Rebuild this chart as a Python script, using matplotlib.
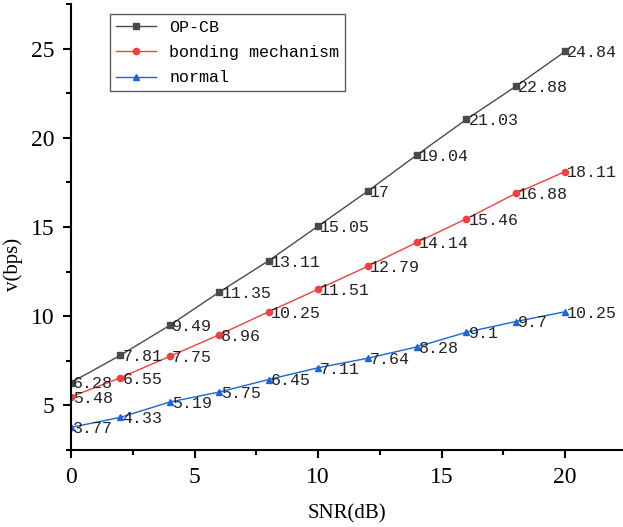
import matplotlib
matplotlib.use("Agg")
import matplotlib.pyplot as plt
from matplotlib.ticker import MultipleLocator

snr = [0, 2, 4, 6, 8, 10, 12, 14, 16, 18, 20]
opcb = [6.28, 7.81, 9.49, 11.35, 13.11, 15.05, 17, 19.04, 21.03, 22.88, 24.84]
bonding = [5.48, 6.55, 7.75, 8.96, 10.25, 11.51, 12.79, 14.14, 15.46, 16.88, 18.11]
normal = [3.77, 4.33, 5.19, 5.75, 6.45, 7.11, 7.64, 8.28, 9.1, 9.7, 10.25]
opcb_lbl = ["6.28", "7.81", "9.49", "11.35", "13.11", "15.05", "17", "19.04", "21.03", "22.88", "24.84"]
bond_lbl = ["5.48", "6.55", "7.75", "8.96", "10.25", "11.51", "12.79", "14.14", "15.46", "16.88", "18.11"]
norm_lbl = ["3.77", "4.33", "5.19", "5.75", "6.45", "7.11", "7.64", "8.28", "9.1", "9.7", "10.25"]

FONT = "Liberation Mono"
plt.rcParams['font.family'] = [FONT, 'DejaVu Sans']

fig = plt.figure(figsize=(6.23, 5.27), dpi=100)
ax = fig.add_axes([71/623, 77/527, 551/623, 446/527])

series = [
    (opcb, opcb_lbl, "OP-CB", "#4a4a4a", "s"),
    (bonding, bond_lbl, "bonding mechanism", "#f04040", "o"),
    (normal, norm_lbl, "normal", "#1a66d9", "^"),
]
for ys, lbls, name, col, mk in series:
    ax.plot(snr, ys, color=col, marker=mk, markersize=4.5, linewidth=1.0, label=name)
    for x, y, t in zip(snr, ys, lbls):
        ax.annotate(t, (x, y), xytext=(1.5, -1), textcoords="offset points",
                    ha="left", va="center", fontsize=12, color="#222222")

ax.set_xlim(0, 22.3)
ax.set_ylim(2.5, 27.5)
ax.xaxis.set_major_locator(MultipleLocator(5))
ax.xaxis.set_minor_locator(MultipleLocator(2.5))
ax.yaxis.set_major_locator(MultipleLocator(5))
ax.yaxis.set_minor_locator(MultipleLocator(2.5))
for s in ["top", "right"]:
    ax.spines[s].set_visible(False)
for s in ["left", "bottom"]:
    ax.spines[s].set_linewidth(1.5)
ax.tick_params(which="major", direction="out", length=6, width=1.5, labelsize=17, pad=6)
ax.tick_params(which="minor", direction="out", length=3.5, width=1.5)
for lab in ax.get_xticklabels() + ax.get_yticklabels():
    lab.set_family("Liberation Serif")

ax.set_xlabel("SNR(dB)", fontsize=15, family="Liberation Serif", labelpad=12)
ax.set_ylabel("v(bps)", fontsize=15, family="Liberation Serif")
ax.yaxis.set_label_coords(-0.087, 0.415)

leg = ax.legend(loc="upper left", bbox_to_anchor=(39/551, (450-14)/446), borderaxespad=0,
                fontsize=12, frameon=True, fancybox=False, edgecolor="#333333",
                handlelength=2.4, borderpad=0.35, labelspacing=0.62)
leg.get_frame().set_linewidth(1.0)

fig.savefig("out.png", dpi=100)
